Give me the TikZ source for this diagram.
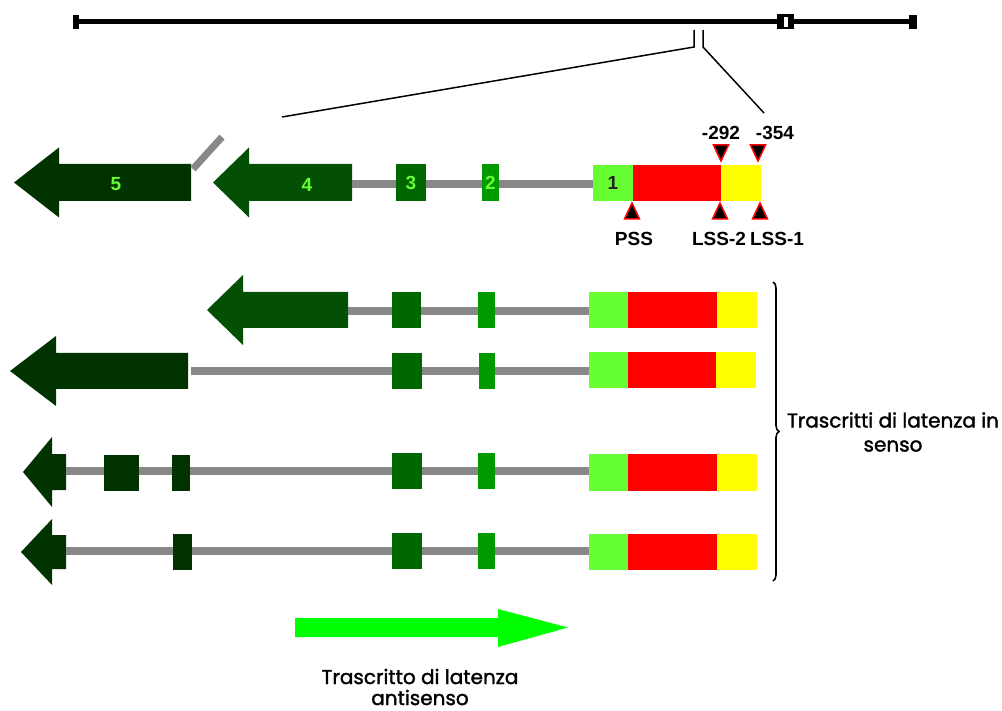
\documentclass[tikz,border=0pt]{standalone}
\usepackage{fontspec}
\setmainfont{Poppins}
\newfontfamily\descfont{Poppins}[FakeBold=1.6]
\newfontfamily\labfont{Liberation Sans}
\usetikzlibrary{decorations.pathreplacing}
\definecolor{dkA}{RGB}{0,51,0}
\definecolor{dkB}{RGB}{3,79,3}
\definecolor{exC}{RGB}{0,102,0}
\definecolor{exD}{RGB}{0,153,0}
\definecolor{exE}{RGB}{102,255,51}
\definecolor{intr}{RGB}{136,136,136}
\definecolor{lat}{RGB}{255,0,0}
\definecolor{lsy}{RGB}{255,255,0}
\definecolor{anti}{RGB}{0,255,0}
\definecolor{numdark}{RGB}{34,34,34}
% exon box: name, colour, x1, x2, ytop, ybottom
\newcommand\exonbox[6]{\node[exbox, fill=#2, minimum width={#4pt-#3pt}, minimum height={#6pt-#5pt}] (#1) at (#3,#5) {};}
% left pointing gene arrow: colour, tip x, centre y, head base x, half head, half shaft, end x
\newcommand\genearrow[7]{\fill[#1] (#2,#3) -- (#4,#3-#5) -- (#4,#3-#6) -- (#7,#3-#6) -- (#7,#3+#6) -- (#4,#3+#6) -- (#4,#3+#5) -- cycle;}
\newcommand\downtri[2]{\filldraw[fill=black, draw=lat, line width=1.5pt] (#1-7.5,#2) -- (#1+7.5,#2) -- (#1,#2+16) -- cycle;}
\newcommand\uptri[2]{\filldraw[fill=black, draw=lat, line width=1.5pt] (#1-7.5,#2) -- (#1+7.5,#2) -- (#1,#2-16) -- cycle;}
% intron between two named things, at the height of a row coordinate
\newcommand\intron[3]{\draw[intron] (#1.east |- #3) -- (#2.west |- #3);}
\begin{document}
\begin{tikzpicture}[x=1pt,y=-1pt,
  exbox/.style={inner sep=0pt, outer sep=0pt, anchor=north west, draw=none},
  intron/.style={draw=intr, line width=8pt},
  zoomline/.style={draw=black, line width=1.5pt},
  num/.style={font=\labfont\bfseries\fontsize{19}{19}\selectfont, text=exE, inner sep=0pt},
  lab/.style={font=\labfont\bfseries\fontsize{19}{22}\selectfont, anchor=base, inner sep=0pt},
  desc/.style={font=\descfont\fontsize{20}{24}\selectfont, align=center, inner sep=0pt}
]
\useasboundingbox (0,0) rectangle (1002,711);

% ---- genome line ----
\coordinate (g0) at (76,21.7);
\coordinate (g1) at (913,21.7);
\draw[line width=4.5pt] (g0) -- (g1);
\node[exbox, fill=black, minimum width=6pt, minimum height=14pt] (tickL) at (73,15) {};
\node[exbox, fill=black, minimum width=8pt, minimum height=14pt] (tickR) at (909,15) {};
\node[exbox, fill=black, minimum width=17pt, minimum height=15pt] (lat0) at (777,14) {};
\node[exbox, fill=white, minimum width=4pt, minimum height=10pt] (lat0w) at (784,17) {};

% ---- zoom lines ----
\coordinate (zA0) at (694,30);
\coordinate (zA1) at (694,47);
\coordinate (zA2) at (282,117);
\coordinate (zB0) at (703,30);
\coordinate (zB1) at (703,47);
\coordinate (zB2) at (764,113);
\draw[zoomline] (zA0) -- (zA1) -- (zA2);
\draw[zoomline] (zB0) -- (zB1) -- (zB2);

% ---- detailed gene ----
\coordinate (row0) at (0,184);
\genearrow{dkA}{14}{182.5}{59}{35}{18.5}{191}
\coordinate (a5) at (193,169);
\coordinate (a5b) at (222,137);
\draw[draw=intr, line width=7pt] (a5) -- (a5b);
\node[num] (n5) at (116,184.5) {5};
\genearrow{dkB}{213}{182.5}{249}{35}{18.5}{352}
\node[num] (n4) at (307,184.5) {4};
\coordinate (a4) at (352,184);
\exonbox{r0e3}{exC}{396}{426}{164}{201}
\exonbox{r0e2}{exD}{482}{499}{164}{201}
\exonbox{r0e1}{exE}{593}{633}{165}{201}
\exonbox{r0lr}{lat}{633}{721}{165}{201}
\exonbox{r0ly}{lsy}{721}{761}{165}{201}
\draw[intron] (a4) -- (r0e3.west |- row0);
\intron{r0e3}{r0e2}{row0}
\intron{r0e2}{r0e1}{row0}
\node[num] (n3) at (r0e3) {3};
\node[num] (n2) at (r0e2) {2};
\node[num, text=numdark] (n1) at (r0e1) {1};

\downtri{721}{145}
\downtri{758}{145}
\uptri{632}{219}
\uptri{720}{219}
\uptri{760}{219}
\node[lab] (l292) at (721,140) {-292};
\node[lab] (l354) at (775,140) {-354};
\node[lab] (lpss) at (634,246) {PSS};
\node[lab] (llss2) at (719,246) {LSS-2};
\node[lab] (llss1) at (777,246) {LSS-1};

% ---- row A ----
\coordinate (rowA) at (0,311);
\genearrow{dkB}{207}{310}{243}{35}{18}{348}
\coordinate (aA) at (348,311);
\exonbox{rAe3}{exC}{392}{421}{292}{328}
\exonbox{rAe2}{exD}{478}{495}{292}{328}
\exonbox{rAe1}{exE}{589}{628}{292}{328}
\exonbox{rAlr}{lat}{628}{717}{292}{328}
\exonbox{rAly}{lsy}{717}{757}{292}{328}
\draw[intron] (aA) -- (rAe3.west |- rowA);
\intron{rAe3}{rAe2}{rowA}
\intron{rAe2}{rAe1}{rowA}

% ---- row B ----
\coordinate (rowB) at (0,371);
\genearrow{dkA}{10}{371}{56}{35}{18}{188}
\coordinate (aB) at (191,371);
\exonbox{rBe3}{exC}{392}{422}{353}{389}
\exonbox{rBe2}{exD}{479}{495}{353}{389}
\exonbox{rBe1}{exE}{589}{628}{352}{388}
\exonbox{rBlr}{lat}{628}{716}{352}{388}
\exonbox{rBly}{lsy}{716}{756}{352}{388}
\draw[intron] (aB) -- (rBe3.west |- rowB);
\intron{rBe3}{rBe2}{rowB}
\intron{rBe2}{rBe1}{rowB}

% ---- row C ----
\coordinate (rowC) at (0,471);
\genearrow{dkA}{23}{472}{52}{35}{18}{66}
\coordinate (aC) at (66,471);
\exonbox{rCe5}{dkA}{104}{139}{455}{491}
\exonbox{rCe4}{dkA}{172}{190}{455}{491}
\exonbox{rCe3}{exC}{392}{422}{453}{489}
\exonbox{rCe2}{exD}{478}{495}{453}{489}
\exonbox{rCe1}{exE}{589}{628}{454}{491}
\exonbox{rClr}{lat}{628}{717}{454}{491}
\exonbox{rCly}{lsy}{717}{757}{454}{491}
\draw[intron] (aC) -- (rCe5.west |- rowC);
\intron{rCe5}{rCe4}{rowC}
\intron{rCe4}{rCe3}{rowC}
\intron{rCe3}{rCe2}{rowC}
\intron{rCe2}{rCe1}{rowC}

% ---- row D ----
\coordinate (rowD) at (0,551);
\genearrow{dkA}{21}{552}{52}{33}{17}{66}
\coordinate (aD) at (66,551);
\exonbox{rDe4}{dkA}{173}{192}{534}{570}
\exonbox{rDe3}{exC}{392}{422}{533}{569}
\exonbox{rDe2}{exD}{478}{495}{533}{569}
\exonbox{rDe1}{exE}{589}{628}{534}{570}
\exonbox{rDlr}{lat}{628}{717}{534}{570}
\exonbox{rDly}{lsy}{717}{757}{534}{570}
\draw[intron] (aD) -- (rDe4.west |- rowD);
\intron{rDe4}{rDe3}{rowD}
\intron{rDe3}{rDe2}{rowD}
\intron{rDe2}{rDe1}{rowD}

% ---- brace and label ----
\coordinate (brT) at (773,282);
\coordinate (brB) at (773,581);
\draw[line width=1.6pt, decorate, decoration={brace, amplitude=6pt}] (brT) -- (brB);
\node[desc] (senso) at (893,432) {Trascritti di latenza in\\senso};

% ---- antisense ----
\coordinate (antA) at (295,627.5);
\coordinate (antB) at (568,627.5);
\fill[anti] (295,618) -- (498,618) -- (498,609) -- (antB) -- (498,647) -- (498,637) -- (295,637) -- cycle;
\node[desc, font=\descfont\fontsize{20}{21}\selectfont] (antis) at (420,687) {Trascritto di latenza\\antisenso};
\end{tikzpicture}
\end{document}
